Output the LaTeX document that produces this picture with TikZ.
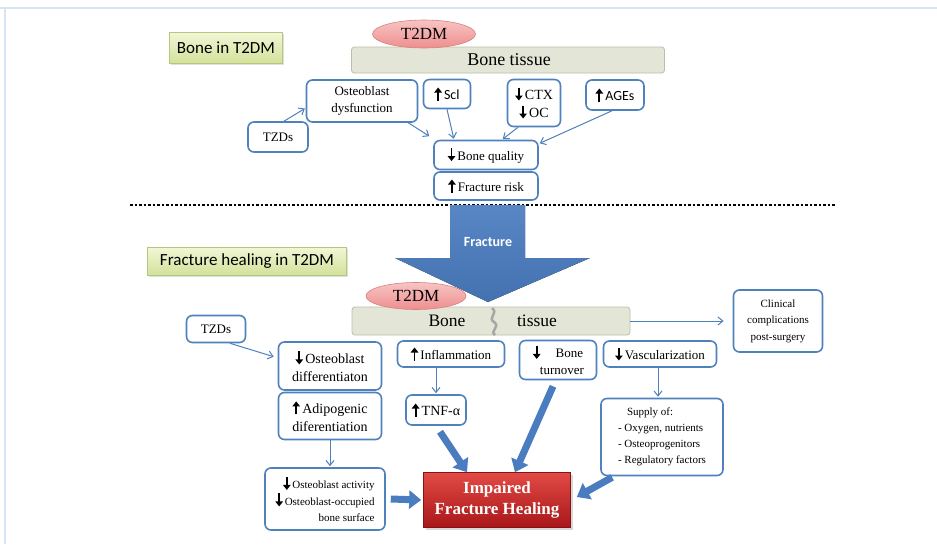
\documentclass[tikz,border=0pt]{standalone}
\usepackage{fontspec}
\setmainfont{Liberation Serif}
\newfontfamily\calibri{Carlito}
\usepackage{xcolor}
\usetikzlibrary{arrows.meta, positioning, calc, shadows, shapes.geometric}
\definecolor{boxBlue}{HTML}{4F81BD}
\definecolor{fatBlue}{HTML}{4A7CC0}
\definecolor{frameBlue}{HTML}{D6E4F5}
\definecolor{tagGreenTop}{HTML}{F2F6D6}
\definecolor{tagGreenBot}{HTML}{D2E19A}
\definecolor{tagGreenLine}{HTML}{B4C77C}
\definecolor{tissueFill}{HTML}{E3E6D7}
\definecolor{tissueLine}{HTML}{B7C0AC}
\definecolor{ovalTop}{HTML}{F8C4C4}
\definecolor{ovalBot}{HTML}{EE8E8E}
\definecolor{ovalLine}{HTML}{D98080}
\definecolor{healTop}{HTML}{E24A44}
\definecolor{healBot}{HTML}{A8171A}
\newcommand\uparr{\tikz[baseline=-1pt]\draw[line width=1.9pt,-{Triangle[length=5pt,width=7.5pt]}](0pt,-2pt)--(0pt,11pt);\,}
\newcommand\dnarr{\tikz[baseline=-1pt]\draw[line width=1.9pt,-{Triangle[length=5pt,width=7.5pt]}](0pt,11pt)--(0pt,-2pt);\,}
\tikzset{
    box_blue/.style={
        rectangle, rounded corners=6pt, draw=boxBlue, line width=1.6pt, fill=white,
        align=center, inner sep=2pt, font=\fontsize{13}{17}\selectfont
    },
    tag_green/.style={
        rectangle, draw=tagGreenLine, line width=0.6pt,
        top color=tagGreenTop, bottom color=tagGreenBot,
        font=\calibri\fontsize{17}{19}\selectfont, drop shadow={opacity=0.25, shadow xshift=1.5pt, shadow yshift=-1.5pt}
    },
    bar_tissue/.style={
        rectangle, rounded corners=3pt, draw=tissueLine, line width=0.8pt, fill=tissueFill,
        font=\fontsize{18}{20}\selectfont
    },
    oval_red/.style={
        ellipse, draw=ovalLine, line width=0.6pt, top color=ovalTop, bottom color=ovalBot,
        inner sep=0pt, font=\fontsize{17}{19}\selectfont
    },
    heal_red/.style={
        rectangle, draw=healBot!80!black, line width=0.6pt, top color=healTop, bottom color=healBot,
        text=white, align=center, font=\bfseries\fontsize{17}{21}\selectfont,
        drop shadow={opacity=0.3, shadow xshift=2pt, shadow yshift=-2pt}
    },
    thin_arrow/.style={
        draw=boxBlue, line width=1pt, -{Straight Barb[length=5pt,width=8pt]}, shorten >=1pt
    },
    fat_arrow/.style={
        draw=fatBlue, line width=7pt, -{Triangle[length=12pt,width=18pt]}
    }
}
\begin{document}
\begin{tikzpicture}[x=1pt, y=-1pt, >=Stealth]

    \useasboundingbox (0,0) rectangle (937,544);
    \fill[white] (0,0) rectangle (937,544);
    \draw[frameBlue, line width=1.5pt] (0,8) -- (937,8);
    \draw[frameBlue, line width=1.5pt] (5,8) -- (5,544);

    % Part 1: Bone in T2DM
    \node[tag_green, minimum width=113pt, minimum height=31pt] (tag_bone) at (226,48) {Bone in T2DM};
    \node[bar_tissue, minimum width=313pt, minimum height=26pt] (tissue_top) at (508,60) {\hspace*{2pt}Bone tissue};
    \node[oval_red, minimum width=103pt, minimum height=28pt] (t2dm_top) at (424,34) {T2DM};

    \node[box_blue, minimum width=111pt, minimum height=42pt] (osteo_dys) at (362,101) {Osteoblast\\dysfunction};
    \node[box_blue, minimum width=47pt, minimum height=29pt] (scl) at (447,94) {\uparr{\calibri\fontsize{14}{16}\selectfont Scl}};
    \node[box_blue, minimum width=53pt, minimum height=47pt, font=\fontsize{14}{18}\selectfont] (ctx) at (534,103) {\dnarr CTX\\\dnarr OC};
    \node[box_blue, minimum width=58pt, minimum height=30pt] (ages) at (615,95) {\uparr{\calibri\fontsize{14}{16}\selectfont AGEs}};
    \node[box_blue, minimum width=60pt, minimum height=30pt] (tzd_top) at (278,137) {TZDs};
    \node[box_blue, minimum width=104pt, minimum height=29pt] (quality) at (486,155) {\dnarr Bone quality};
    \node[box_blue, minimum width=104pt, minimum height=28pt] (risk) at (486,186) {\uparr Fracture risk};

    \draw[thin_arrow] ([xshift=6pt]tzd_top.north) -- ([yshift=-7pt]osteo_dys.west);
    \draw[thin_arrow] ([xshift=-10pt]osteo_dys.south east) -- ([shift={(-3pt,3pt)}]quality.north west);
    \draw[thin_arrow] (scl.south) -- ([xshift=-32pt]quality.north);
    \draw[thin_arrow] ([xshift=-16pt]ctx.south) -- ([xshift=16pt]quality.north);
    \draw[thin_arrow] ([xshift=-3pt]ages.south) -- ([yshift=-4pt]quality.north east);

    % Divider and fracture arrow
    \draw[black, line width=2.5pt, dash pattern=on 2.5pt off 2pt] (130,205) -- (835,205);
    \fill[top color=fatBlue!92!white, bottom color=fatBlue!92!black]
        (450,205) -- (525,205) -- (525,258) -- (590,258) -- (488,302) -- (395,258) -- (450,258) -- cycle;
    \node[text=white, font=\calibri\bfseries\fontsize{14}{16}\selectfont] (fracture) at (488,242) {Fracture};

    % Part 2: Fracture healing in T2DM
    \node[tag_green, minimum width=199pt, minimum height=28pt] (tag_heal) at (247,261) {Fracture healing in T2DM};
    \node[bar_tissue, minimum width=278pt, minimum height=28pt] (tissue_bot) at (491,321) {};
    \node[font=\fontsize{17.5}{20}\selectfont] (bone_word) at (447,321) {Bone};
    \node[font=\fontsize{17.5}{20}\selectfont] (tissue_word) at (537,321) {tissue};
    \draw[gray!70, line width=2.5pt] (492,308) .. controls (499,313) and (487,318) .. (494,322) .. controls (501,327) and (489,331) .. (495,335);
    \node[oval_red, minimum width=100pt, minimum height=27pt] (t2dm_bot) at (416,296) {T2DM};

    \node[box_blue, minimum width=89pt, minimum height=62pt, font=\fontsize{11}{16.5}\selectfont] (clinical) at (778,321) {Clinical\\complications\\post-surgery};
    \node[box_blue, minimum width=59pt, minimum height=27pt] (tzd_bot) at (216,329) {TZDs};
    \node[box_blue, minimum width=103pt, minimum height=48pt, font=\fontsize{14}{18}\selectfont] (osteo_diff) at (330,366) {\dnarr Osteoblast\\differentiaton};
    \node[box_blue, minimum width=103pt, minimum height=47pt, font=\fontsize{14}{18}\selectfont] (adipo) at (330,416) {\uparr Adipogenic\\diferentiation};
    \node[box_blue, minimum width=107pt, minimum height=26pt] (inflam) at (451,354) {\uparr Inflammation};
    \node[box_blue, minimum width=60pt, minimum height=30pt, font=\fontsize{14}{16}\selectfont] (tnf) at (436,410) {\uparr TNF-α};
    \node[box_blue, minimum width=77pt, minimum height=39pt] (turnover) at (558,360) {\dnarr\quad Bone\\\hspace*{8pt}turnover};
    \node[box_blue, minimum width=113pt, minimum height=26pt] (vascular) at (660,354) {\dnarr Vascularization};
    \node[box_blue, minimum width=122pt, minimum height=77pt, align=left, font=\fontsize{11}{16}\selectfont] (supply) at (662,437) {\hspace*{9pt}Supply of:\\- Oxygen,\ nutrients\\- Osteoprogenitors\\- Regulatory\ factors};
    \node[box_blue, minimum width=120pt, minimum height=62pt, align=right, font=\fontsize{11}{16.5}\selectfont] (ob_activity) at (325,499) {\dnarr Osteoblast activity\\\dnarr Osteoblast-occupied\\bone surface};
    \node[heal_red, minimum width=147pt, minimum height=55pt] (impaired) at (497,500) {Impaired\\Fracture Healing};

    \draw[thin_arrow] (tissue_bot.east) -- ([xshift=-8pt]clinical.west);
    \draw[thin_arrow] ([xshift=14pt]tzd_bot.south) -- ([shift={(-3pt,9pt)}]osteo_diff.west);
    \draw[thin_arrow] (tnf.north |- inflam.south) -- (tnf.north);
    \draw[thin_arrow] ([xshift=-2pt]vascular.south) -- ([xshift=-2pt]vascular.south |- supply.north);
    \draw[thin_arrow] (adipo.south) -- (adipo.south |- ob_activity.north);

    % Thick arrows into the outcome
    \draw[fat_arrow] ([shift={(4pt,-6pt)}]tnf.south) -- ([xshift=-30pt]impaired.north);
    \draw[fat_arrow] ([shift={(-5pt,-6pt)}]turnover.south) -- ([xshift=18pt]impaired.north);
    \draw[fat_arrow] ([shift={(12pt,-1pt)}]supply.south west) -- ([shift={(6pt,3pt)}]impaired.east);
    \draw[fat_arrow] ([xshift=5pt]ob_activity.east) -- ([xshift=-2pt]impaired.west);

\end{tikzpicture}
\end{document}
